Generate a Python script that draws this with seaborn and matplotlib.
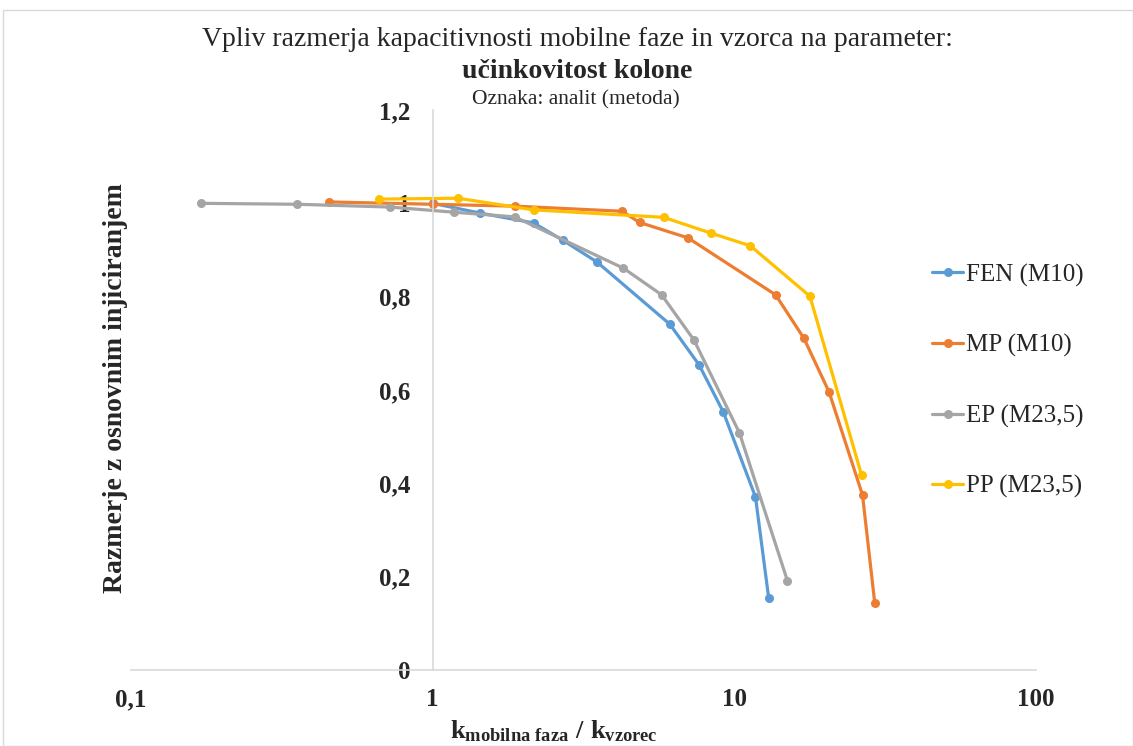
import numpy as np
import pandas as pd
import seaborn as sns
import matplotlib
matplotlib.use("Agg")
import matplotlib.pyplot as plt
from matplotlib.patches import Rectangle

# ---- data ----
series_names = ["FEN (M10)", "MP (M10)", "EP (M23,5)", "PP (M23,5)"]
colors = ["#5B9BD5", "#ED7D31", "#A5A5A5", "#FFC000"]

fen_x = [1.0, 1.44, 2.16, 2.70, 3.51, 6.11, 7.64, 9.19, 11.75, 13.0]
fen_y = [1.000, 0.979, 0.958, 0.921, 0.874, 0.741, 0.654, 0.553, 0.371, 0.154]

mp_x = [0.453, 1.0, 1.87, 4.25, 4.85, 7.02, 13.7, 17.0, 20.6, 26.6, 29.2]
mp_y = [1.003, 0.998, 0.994, 0.983, 0.959, 0.926, 0.804, 0.711, 0.596, 0.375, 0.144]

ep_x = [0.170, 0.356, 0.724, 1.175, 1.87, 4.29, 5.74, 7.35, 10.4, 15.0]
ep_y = [1.000, 0.998, 0.992, 0.981, 0.971, 0.861, 0.804, 0.707, 0.508, 0.191]

pp_x = [0.665, 1.21, 2.16, 5.83, 8.38, 11.3, 17.8, 26.4]
pp_y = [1.009, 1.011, 0.986, 0.970, 0.936, 0.909, 0.801, 0.418]

x_ticks = [0.1, 1, 10, 100]
x_tick_labels = ["0,1", "1", "10", "100"]
y_ticks = [0, 0.2, 0.4, 0.6, 0.8, 1.0, 1.2]
y_tick_labels = ["0", "0,2", "0,4", "0,6", "0,8", "1", "1,2"]

title_line1 = "Vpliv razmerja kapacitivnosti mobilne faze in vzorca na parameter:"
title_line2 = "učinkovitost kolone"
title_line3 = "Oznaka: analit (metoda)"
y_label = "Razmerje z osnovnim injiciranjem"
x_label = r"$\mathbf{k_{mobilna\ faza}\ /\ k_{vzorec}}$"

frames = []
for name, xs, ys in zip(series_names, [fen_x, mp_x, ep_x, pp_x], [fen_y, mp_y, ep_y, pp_y]):
    frames.append(pd.DataFrame({"x": xs, "y": ys, "serija": name}))
df = pd.concat(frames, ignore_index=True)

# ---- style ----
sns.set_style("white")
plt.rcParams["font.family"] = ["Liberation Serif", "DejaVu Serif"]
plt.rcParams["mathtext.fontset"] = "custom"
plt.rcParams["mathtext.rm"] = "Liberation Serif:bold"
plt.rcParams["mathtext.bf"] = "Liberation Serif:bold"
plt.rcParams["mathtext.it"] = "Liberation Serif:bold"

fig = plt.figure(figsize=(11.33, 7.46), dpi=100)
ax = fig.add_axes([131 / 1133, 1 - 670 / 746, (1036 - 131) / 1133, (670 - 110) / 746])

sns.lineplot(data=df, x="x", y="y", hue="serija", hue_order=series_names,
             palette=colors, marker="o", markersize=6.5, markeredgewidth=0,
             linewidth=2.3, sort=False, estimator=None, ax=ax, legend=True)

ax.set_xscale("log")
for s in ["top", "right"]:
    ax.spines[s].set_visible(False)
ax.spines["left"].set_position(("data", 1))
ax.spines["left"].set_color("#D9D9D9")
ax.spines["bottom"].set_color("#D9D9D9")
ax.spines["left"].set_linewidth(1.2)
ax.spines["bottom"].set_linewidth(1.2)
ax.grid(False)

ax.set_xlim(0.1, 100)
ax.set_ylim(0, 1.2)
ax.set_xticks(x_ticks)
ax.set_xticklabels(x_tick_labels, fontsize=18, fontweight="bold")
ax.xaxis.set_minor_locator(matplotlib.ticker.NullLocator())
ax.set_yticks(y_ticks)
ax.set_yticklabels(y_tick_labels, fontsize=18, fontweight="bold")
ax.tick_params(axis="both", which="both", length=0)
ax.tick_params(axis="x", pad=13)
ax.tick_params(axis="y", pad=16)

ax.set_xlabel("")
ax.set_ylabel("")
fig.text(554 / 1133, 1 - 731 / 746, x_label, fontsize=19, ha="center", va="center")
fig.text(116 / 1133, 1 - 388 / 746, y_label, rotation=90, fontsize=20, fontweight="bold",
         ha="center", va="center")

fig.text(577 / 1133, 1 - 40 / 746, title_line1, fontsize=20, ha="center", va="center")
fig.text(577 / 1133, 1 - 72 / 746, title_line2, fontsize=20, fontweight="bold", ha="center", va="center")
fig.text(576 / 1133, 1 - 100 / 746, title_line3, fontsize=15.5, ha="center", va="center")

handles, labels = ax.get_legend_handles_labels()
leg = ax.legend(handles, labels, loc="center left", bbox_to_anchor=(932 / 1133, 1 - 381 / 746),
                bbox_transform=fig.transFigure, frameon=False, fontsize=18,
                labelspacing=1.9, handlelength=1.25, handletextpad=0.12,
                borderpad=0, borderaxespad=0)

fig.patches.append(Rectangle((3 / 1133, 0), 1 - 3 / 1133, 1 - 10 / 746, transform=fig.transFigure,
                             fill=False, edgecolor="#D9D9D9", linewidth=1.0))

fig.savefig("out.png", dpi=100, facecolor="white")
